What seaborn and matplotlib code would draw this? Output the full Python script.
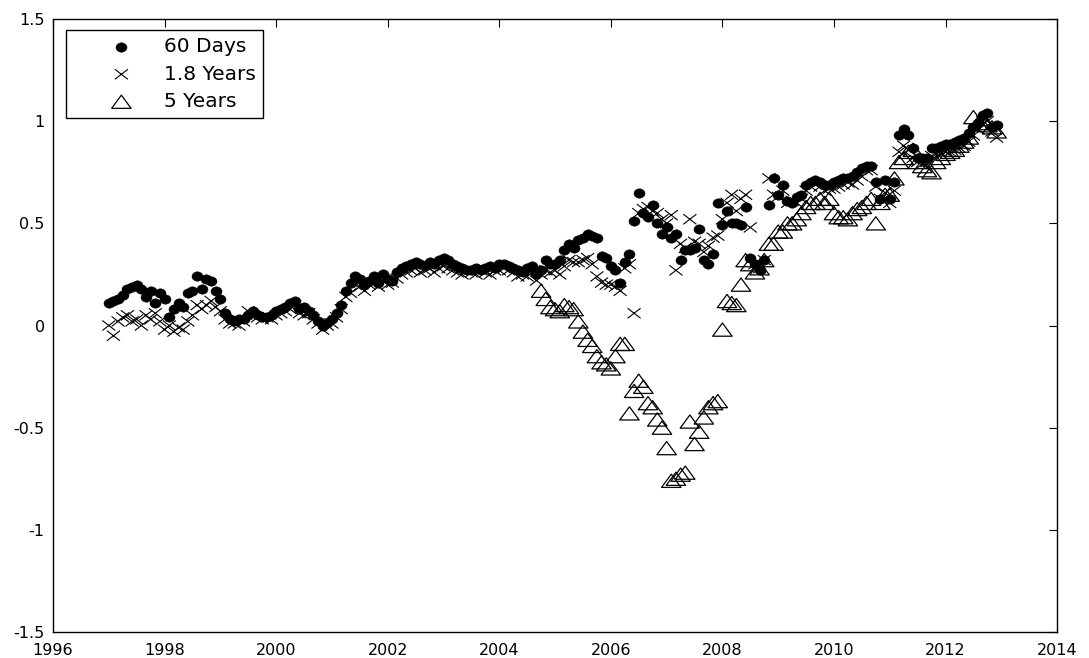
import numpy as np
import pandas as pd
import matplotlib
matplotlib.use("Agg")
import matplotlib.pyplot as plt
from matplotlib.path import Path
from matplotlib.legend_handler import HandlerPathCollection
import seaborn as sns

# Monthly observations, January 1997 onwards
start_year = 1997
# 60-day window estimates
days60 = [
    0.11, 0.12, 0.13, 0.15, 0.18, 0.19, 0.20, 0.18, 0.14, 0.17, 0.11, 0.16,  # 1997
    0.13, 0.04, 0.08, 0.11, 0.09, 0.16, 0.17, 0.24, 0.18, 0.23, 0.22, 0.17,  # 1998
    0.13, 0.06, 0.03, 0.02, 0.03, 0.03, 0.05, 0.07, 0.05, 0.04, 0.04, 0.05,  # 1999
    0.07, 0.08, 0.09, 0.11, 0.12, 0.08, 0.09, 0.07, 0.05, 0.02, 0.00, 0.01,  # 2000
    0.03, 0.06, 0.10, 0.17, 0.21, 0.24, 0.23, 0.20, 0.22, 0.24, 0.21, 0.25,  # 2001
    0.23, 0.22, 0.26, 0.28, 0.29, 0.30, 0.31, 0.30, 0.29, 0.31, 0.30, 0.32,  # 2002
    0.33, 0.32, 0.30, 0.29, 0.28, 0.27, 0.27, 0.28, 0.27, 0.28, 0.29, 0.28,  # 2003
    0.30, 0.30, 0.29, 0.28, 0.27, 0.26, 0.28, 0.29, 0.25, 0.27, 0.32, 0.30,  # 2004
    0.30, 0.32, 0.37, 0.40, 0.38, 0.42, 0.43, 0.45, 0.44, 0.43, 0.34, 0.33,  # 2005
    0.29, 0.27, 0.21, 0.31, 0.35, 0.51, 0.65, 0.55, 0.53, 0.59, 0.50, 0.45,  # 2006
    0.48, 0.43, 0.45, 0.32, 0.37, 0.37, 0.38, 0.47, 0.32, 0.30, 0.35, 0.60,  # 2007
    0.49, 0.56, 0.50, 0.50, 0.49, 0.58, 0.33, 0.30, 0.27, 0.32, 0.59, 0.72,  # 2008
    0.64, 0.69, 0.61, 0.60, 0.63, 0.64, 0.69, 0.70, 0.71, 0.70, 0.69, 0.69,  # 2009
    0.70, 0.71, 0.72, 0.72, 0.73, 0.75, 0.77, 0.78, 0.78, 0.70, 0.62, 0.71,  # 2010
    0.62, 0.70, 0.93, 0.96, 0.93, 0.87, 0.82, 0.82, 0.82, 0.87, 0.87, 0.88,  # 2011
    0.89, 0.89, 0.90, 0.91, 0.92, 0.94, 0.97, 0.99, 1.03, 1.04, 0.97, 0.98,  # 2012
]
# 1.8-year window estimates
years18 = [
    0.00, -0.05, 0.02, 0.04, 0.05, 0.02, 0.03, 0.00, 0.05, 0.03, 0.06, 0.02,  # 1997
    -0.02, 0.00, -0.03, -0.01, -0.02, 0.02, 0.05, 0.10, 0.08, 0.10, 0.12, 0.09,  # 1998
    0.07, 0.03, 0.01, 0.01, 0.00, 0.02, 0.07, 0.05, 0.04, 0.03, 0.04, 0.03,  # 1999
    0.05, 0.06, 0.07, 0.08, 0.10, 0.06, 0.05, 0.06, 0.03, 0.01, -0.02, 0.00,  # 2000
    0.01, 0.04, 0.08, 0.14, 0.16, 0.20, 0.19, 0.17, 0.20, 0.21, 0.19, 0.22,  # 2001
    0.20, 0.21, 0.23, 0.25, 0.26, 0.27, 0.28, 0.26, 0.27, 0.28, 0.26, 0.28,  # 2002
    0.29, 0.28, 0.27, 0.26, 0.25, 0.27, 0.26, 0.25, 0.27, 0.26, 0.25, 0.27,  # 2003
    0.27, 0.28, 0.27, 0.26, 0.24, 0.25, 0.24, 0.26, 0.22, 0.25, 0.27, 0.26,  # 2004
    0.27, 0.25, 0.29, 0.32, 0.31, 0.31, 0.32, 0.33, 0.30, 0.24, 0.21, 0.20,  # 2005
    0.20, 0.19, 0.17, 0.28, 0.30, 0.06, 0.55, 0.57, 0.58, 0.56, 0.55, 0.52,  # 2006
    0.50, 0.54, 0.27, 0.40, 0.38, 0.52, 0.41, 0.40, 0.36, 0.39, 0.43, 0.44,  # 2007
    0.52, 0.60, 0.64, 0.56, 0.62, 0.64, 0.48, 0.30, 0.28, 0.32, 0.72, 0.64,  # 2008
    0.63, 0.66, 0.60, 0.61, 0.60, 0.62, 0.66, 0.68, 0.69, 0.68, 0.66, 0.67,  # 2009
    0.67, 0.68, 0.69, 0.70, 0.69, 0.71, 0.73, 0.76, 0.76, 0.68, 0.62, 0.65,  # 2010
    0.60, 0.66, 0.85, 0.88, 0.86, 0.82, 0.80, 0.79, 0.80, 0.83, 0.84, 0.84,  # 2011
    0.85, 0.85, 0.86, 0.87, 0.88, 0.90, 0.93, 0.96, 1.00, 1.00, 0.95, 0.92,  # 2012
]
# 5-year window estimates, available from October 2004
years5_first_month = 9  # months after January 2004
years5 = [
    0.17, 0.13, 0.09,  # 2004 (Oct-Dec)
    0.08, 0.07, 0.10, 0.09, 0.08, 0.02, -0.03, -0.07, -0.10, -0.15, -0.18, -0.19,  # 2005
    -0.21, -0.15, -0.09, -0.09, -0.43, -0.32, -0.27, -0.30, -0.38, -0.40, -0.46, -0.50,  # 2006
    -0.60, -0.76, -0.75, -0.73, -0.72, -0.47, -0.58, -0.52, -0.45, -0.40, -0.38, -0.37,  # 2007
    -0.02, 0.12, 0.11, 0.10, 0.20, 0.32, 0.30, 0.26, 0.28, 0.32, 0.40, 0.40,  # 2008
    0.46, 0.46, 0.50, 0.50, 0.52, 0.55, 0.58, 0.60, 0.60, 0.62, 0.60, 0.62,  # 2009
    0.55, 0.53, 0.53, 0.52, 0.55, 0.57, 0.58, 0.60, 0.62, 0.50, 0.60, 0.64,  # 2010
    0.64, 0.72, 0.80, 0.82, 0.85, 0.86, 0.80, 0.78, 0.76, 0.75, 0.80, 0.82,  # 2011
    0.84, 0.85, 0.86, 0.88, 0.90, 0.92, 1.02, 0.99, 1.01, 0.98, 0.97, 0.95,  # 2012
]

series_labels = ["60 Days", "1.8 Years", "5 Years"]
x_ticks = [1996, 1998, 2000, 2002, 2004, 2006, 2008, 2010, 2012, 2014]
y_ticks = [-1.5, -1, -0.5, 0, 0.5, 1, 1.5]
y_tick_labels = ["-1.5", "-1", "-0.5", "0", "0.5", "1", "1.5"]

t_main = start_year + np.arange(len(days60)) / 12.0
t_5y = 2004 + (years5_first_month + np.arange(len(years5))) / 12.0
df_main = pd.DataFrame({"t": t_main, "d60": days60, "y18": years18})
df_5y = pd.DataFrame({"t": t_5y, "y5": years5})

sns.set_style("white")
plt.rcParams["font.family"] = ["DejaVu Sans"]
plt.rcParams["text.color"] = "black"

# Marker shapes, slightly wider than tall
cross = Path([(-1, -0.77), (1, 0.77), (-1, 0.77), (1, -0.77)],
             [Path.MOVETO, Path.LINETO, Path.MOVETO, Path.LINETO])
triangle = Path([(-1, -0.68), (1, -0.68), (0, 0.68), (-1, -0.68)],
                [Path.MOVETO, Path.LINETO, Path.LINETO, Path.CLOSEPOLY])
ellipse = Path.unit_circle().transformed(matplotlib.transforms.Affine2D().scale(1.0, 0.85))

fig = plt.figure(figsize=(10.89, 6.58), dpi=100)
ax = fig.add_axes([0.0487, 0.0395, 0.922, 0.9316])

sns.scatterplot(data=df_main, x="t", y="d60", marker=ellipse, s=8.0 ** 2,
                color="black", edgecolor="black", linewidth=0.3,
                label=series_labels[0], ax=ax, zorder=3)
sns.scatterplot(data=df_main, x="t", y="y18", marker=cross, s=9.4 ** 2,
                facecolor="none", edgecolor="black", linewidth=0.8,
                label=series_labels[1], ax=ax, zorder=3)
sns.scatterplot(data=df_5y, x="t", y="y5", marker=triangle, s=14.0 ** 2,
                facecolor="none", edgecolor="black", linewidth=0.9,
                label=series_labels[2], ax=ax, zorder=3)

ax.set_xlim(1996, 2014)
ax.set_ylim(-1.5, 1.5)
ax.set_xticks(x_ticks)
ax.set_xticklabels([str(v) for v in x_ticks])
ax.set_yticks(y_ticks)
ax.set_yticklabels(y_tick_labels)
ax.set_xlabel("")
ax.set_ylabel("")
ax.tick_params(direction="in", length=6, width=0.8, top=True, right=True,
               labelsize=11.5, colors="black")
ax.tick_params(axis="x", pad=8)
ax.tick_params(axis="y", pad=6)
for side in ax.spines.values():
    side.set_visible(True)
    side.set_color("black")
    side.set_linewidth(1.0)

fs = 14.5
leg = ax.legend(loc="upper left", bbox_to_anchor=(0.0129, 0.982), borderaxespad=0,
                frameon=True, fancybox=False, edgecolor="black", framealpha=1,
                fontsize=fs, scatterpoints=1, borderpad=0.35, handlelength=3.8,
                handletextpad=0.7, labelspacing=0.42,
                handler_map={matplotlib.collections.PathCollection:
                             HandlerPathCollection(xpad=1.0)})
leg.get_frame().set_linewidth(1.0)
for txt in leg.get_texts():
    txt.set_color("black")

fig.savefig("out.png", dpi=100, facecolor="white")
